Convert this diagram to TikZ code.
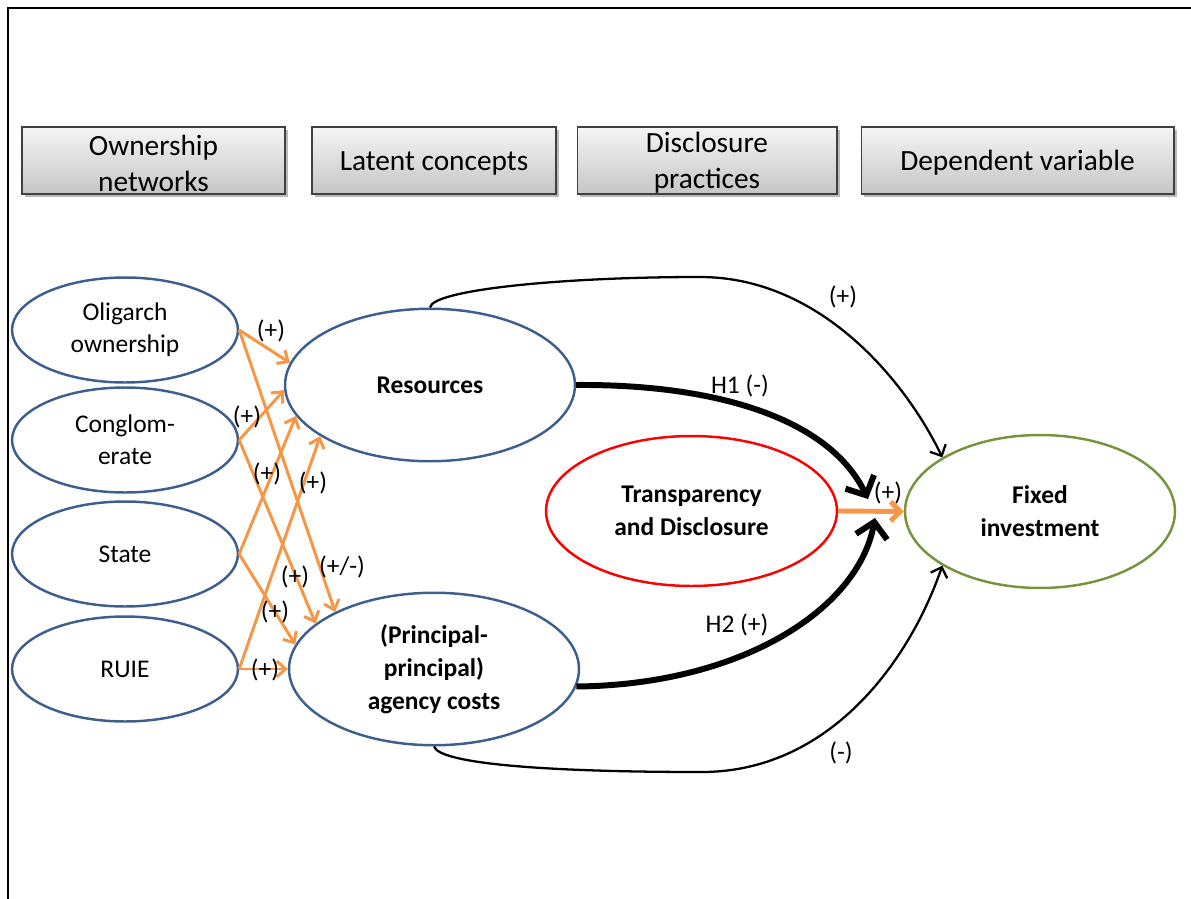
\documentclass[tikz,border=0pt]{standalone}
\usepackage{fontspec}
\setmainfont{Carlito}
\usetikzlibrary{shapes.geometric,arrows.meta,shadows}
\definecolor{ebl}{HTML}{3D5F8E}
\definecolor{eor}{HTML}{F79646}
\definecolor{egr}{HTML}{77933C}
\begin{document}
\begin{tikzpicture}[x=0.02cm,y=-0.02cm,
  hdr/.style={draw=black!75, line width=0.6pt, top color=gray!8, bottom color=gray!45,
    minimum height=1.34cm, inner sep=0pt,
    drop shadow={shadow xshift=1.8pt,shadow yshift=-1.8pt,fill=black!60,opacity=0.45}},
  htxt/.style={inner sep=0pt, align=center, font=\fontsize{16.7}{20.4}\selectfont},
  lell/.style={ellipse, draw=ebl, line width=1.4pt, minimum width=4.52cm, minimum height=2.1cm,
    inner sep=0pt, align=center, font=\fontsize{14.5}{18.1}\selectfont},
  mell/.style={ellipse, line width=1.4pt, minimum width=5.8cm, minimum height=3.05cm,
    inner sep=0pt, align=center, font=\fontsize{14.5}{18.7}\selectfont\bfseries},
  lbl/.style={inner sep=0pt, font=\fontsize{14.5}{17}\selectfont},
  oar/.style={draw=eor, line width=1.7pt, -{Straight Barb[length=5pt,width=9pt]}},
  tar/.style={draw=black, line width=1.3pt, -{Straight Barb[length=5pt,width=10pt]}},
  kar/.style={draw=black, line width=3.4pt, -{Straight Barb[length=8.5pt,width=18pt]}},
]
\useasboundingbox (0,0) rectangle (1191,899);
\draw[line width=1.2pt] (8,899) -- (8,8) -- (1191,8);

% header boxes
\node[hdr, minimum width=5.26cm] (h1) at (153.5,160.5) {};
\node[hdr, minimum width=4.88cm] (h2) at (434,160.5) {};
\node[hdr, minimum width=5.2cm] (h3) at (707,160.5) {};
\node[hdr, minimum width=6.26cm] (h4) at (1017.5,160.5) {};
\node[htxt] (h1t) at (153.5,163) {Ownership\\networks};
\node[htxt] (h2t) at (434,163) {Latent concepts};
\node[htxt] (h3t) at (707,163) {Disclosure\\practices};
\node[htxt] (h4t) at (1017.5,163) {Dependent variable};

% left ellipses
\node[lell] (olig) at (125,330) {Oligarch\\ownership};
\node[lell] (cong) at (125,440) {Conglom-\\erate};
\node[lell] (stat) at (125,554) {State};
\node[lell] (ruie) at (125,669) {RUIE};

% middle / right ellipses
\node[mell, draw=ebl] (res) at (430,385) {Resources};
\node[mell, draw=ebl] (agc) at (434,669) {(Principal-\\principal)\\agency costs};
\node[mell, draw=red, minimum width=5.82cm, minimum height=3.0cm] (tra) at (691.5,511) {Transparency\\and Disclosure};
\node[mell, draw=egr, minimum width=5.4cm, minimum height=3.06cm] (fix) at (1040,511.5) {Fixed\\investment};

% orange arrows
\draw[oar] (olig.east) -- (res.171);
\draw[oar] (olig.east) -- (agc.150);
\draw[oar] (cong.east) -- (res.182);
\draw[oar] (cong.east) -- (agc.159);
\draw[oar] (stat.east) -- (res.193);
\draw[oar] (stat.east) -- (agc.170);
\draw[oar] (ruie.east) -- (res.205);
\draw[oar] (ruie.east) -- (agc.west);

\node[lbl] (l1) at (271,331) {(+)};
\node[lbl] (l2) at (247,417) {(+)};
\node[lbl] (l3) at (267,474) {(+)};
\node[lbl] (l4) at (313,483) {(+)};
\node[lbl] (l5) at (342,567) {(+/-)};
\node[lbl] (l6) at (295,577) {(+)};
\node[lbl] (l7) at (275,612) {(+)};
\node[lbl] (l8) at (265,670) {(+)};

% thin black curves
\draw[tar] (res.north) .. controls (432,290) and (560,277) .. (700,277)
  .. controls (820,277) and (905,380) .. (fix.151);
\draw[tar] (agc.south) .. controls (440,765) and (560,772) .. (700,772)
  .. controls (830,773) and (910,660) .. (fix.209);
\node[lbl] (lp) at (843,297) {(+)};
\node[lbl] (lm) at (841,753) {(-)};

% thick hypotheses arrows
\coordinate (e1) at (868,499);
\coordinate (e2) at (875,518);
\draw[kar] (res.east) .. controls (720,384) and (830,420) .. (e1);
\draw[kar] (agc.-7) .. controls (740,685) and (858,610) .. (e2);
\node[lbl] (lh1) at (740,386) {H1 (-)};
\node[lbl] (lh2) at (737,625) {H2 (+)};

% transparency -> fixed
\draw[draw=eor, line width=2.8pt, -{Straight Barb[length=5.5pt,width=11pt]}] (tra.east) -- (fix.west);
\node[lbl] (lt) at (888,493) {(+)};
\end{tikzpicture}
\end{document}
